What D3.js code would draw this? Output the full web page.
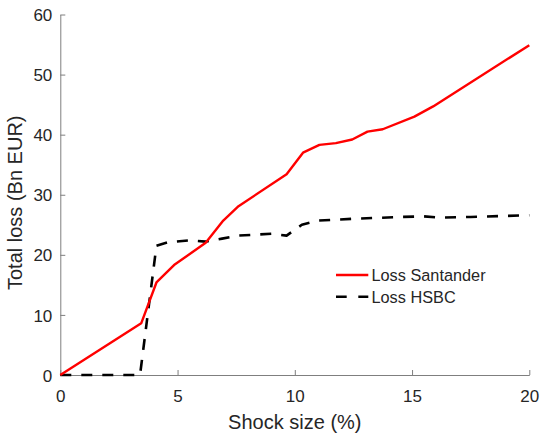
<!DOCTYPE html>
<html>
<head>
<meta charset="utf-8">
<script src="https://cdn.jsdelivr.net/npm/d3@7"></script>
<style>
  html, body { margin: 0; padding: 0; background: #fff; }
  svg { display: block; font-family: "Liberation Sans", Arial, Helvetica, sans-serif; }
</style>
</head>
<body>
<svg id="chart" width="543" height="433"></svg>
<script>
// Shock size (%) and total loss (Bn EUR) for each bank
const santanderShock = [0, 3.45, 4.1, 4.85, 6.2, 6.95, 7.6, 9.65, 10.35, 11.05, 11.75, 12.45, 13.1, 13.75, 15.1, 15.9, 20];
const santanderLoss  = [0, 8.6, 15.4, 18.3, 22.0, 25.7, 28.1, 33.4, 37.0, 38.3, 38.6, 39.2, 40.5, 40.9, 43.0, 44.7, 54.9];

const hsbcShock = [0, 3.4, 4.1, 4.6, 5.5, 6.2, 6.9, 7.6, 9.0, 9.65, 10.3, 11.0, 12.5, 14.5, 15.5, 16.2, 17.5, 20];
const hsbcLoss  = [0, 0, 21.5, 22.1, 22.4, 22.2, 22.7, 23.2, 23.5, 23.2, 25.0, 25.7, 26.0, 26.3, 26.4, 26.2, 26.3, 26.6];

const xTicks = [0, 5, 10, 15, 20];
const yTicks = [0, 10, 20, 30, 40, 50, 60];

const seriesNames = ["Loss Santander", "Loss HSBC"];

const svg = d3.select("#chart");
const plotLeft = 60.3, plotRight = 529.3, plotTop = 14.5, plotBottom = 375;

const x = d3.scaleLinear().domain([0, 20]).range([plotLeft, plotRight]);
const y = d3.scaleLinear().domain([0, 60]).range([plotBottom, plotTop]);

const axisColor = "#7f7f7f";
const textColor = "#262626";

// Bottom axis, ticks pointing into the plot
const gx = svg.append("g").attr("transform", `translate(0,${plotBottom})`)
  .call(d3.axisBottom(x).tickValues(xTicks).tickSizeInner(-5).tickSizeOuter(0).tickPadding(13));
// Left axis, ticks pointing into the plot
const gy = svg.append("g").attr("transform", `translate(${plotLeft},0)`)
  .call(d3.axisLeft(y).tickValues(yTicks).tickSizeInner(-5).tickSizeOuter(0).tickPadding(13));

[gx, gy].forEach(g => {
  g.select(".domain").attr("stroke", axisColor).attr("stroke-width", 1);
  g.selectAll(".tick line").attr("stroke", axisColor).attr("stroke-width", 1);
  g.selectAll(".tick text").attr("fill", textColor).attr("font-size", 17)
    .attr("font-family", "Liberation Sans, Arial, sans-serif");
});
gx.selectAll(".tick text").attr("dy", null).attr("y", 26.5);
gy.selectAll(".tick text").attr("x", -8).attr("dy", "0.36em");

// Axis titles
svg.append("text")
  .attr("x", (plotLeft + plotRight) / 2).attr("y", 429)
  .attr("text-anchor", "middle").attr("font-size", 20).attr("fill", textColor)
  .text("Shock size (%)");
svg.append("text")
  .attr("transform", `translate(22,${(plotTop + plotBottom) / 2 + 8}) rotate(-90)`)
  .attr("text-anchor", "middle").attr("font-size", 20).attr("fill", textColor)
  .text("Total loss (Bn EUR)");

const line = d3.line().x(d => x(d[0])).y(d => y(d[1]));

const santander = santanderShock.map((s, i) => [s, santanderLoss[i]]);
const hsbc = hsbcShock.map((s, i) => [s, hsbcLoss[i]]);

svg.append("path").datum(hsbc).attr("d", line)
  .attr("fill", "none").attr("stroke", "#000").attr("stroke-width", 2.6)
  .attr("stroke-dasharray", "11,10").attr("stroke-linejoin", "round");

svg.append("path").datum(santander).attr("d", line)
  .attr("fill", "none").attr("stroke", "#ff0000").attr("stroke-width", 2.4)
  .attr("stroke-linejoin", "round");

// Legend
const legend = svg.append("g");
const styles = [
  { stroke: "#ff0000", dash: null, w: 2.4 },
  { stroke: "#000", dash: "10.7,11.6", w: 2.6 }
];
seriesNames.forEach((name, i) => {
  const ly = 275 + i * 21.7;
  legend.append("line")
    .attr("x1", 336).attr("x2", 368.3).attr("y1", ly).attr("y2", ly)
    .attr("stroke", styles[i].stroke).attr("stroke-width", styles[i].w)
    .attr("stroke-dasharray", styles[i].dash);
  legend.append("text")
    .attr("x", 371.5).attr("y", ly).attr("dy", "0.36em")
    .attr("font-size", 16.3).attr("fill", textColor).text(name);
});
</script>
</body>
</html>
